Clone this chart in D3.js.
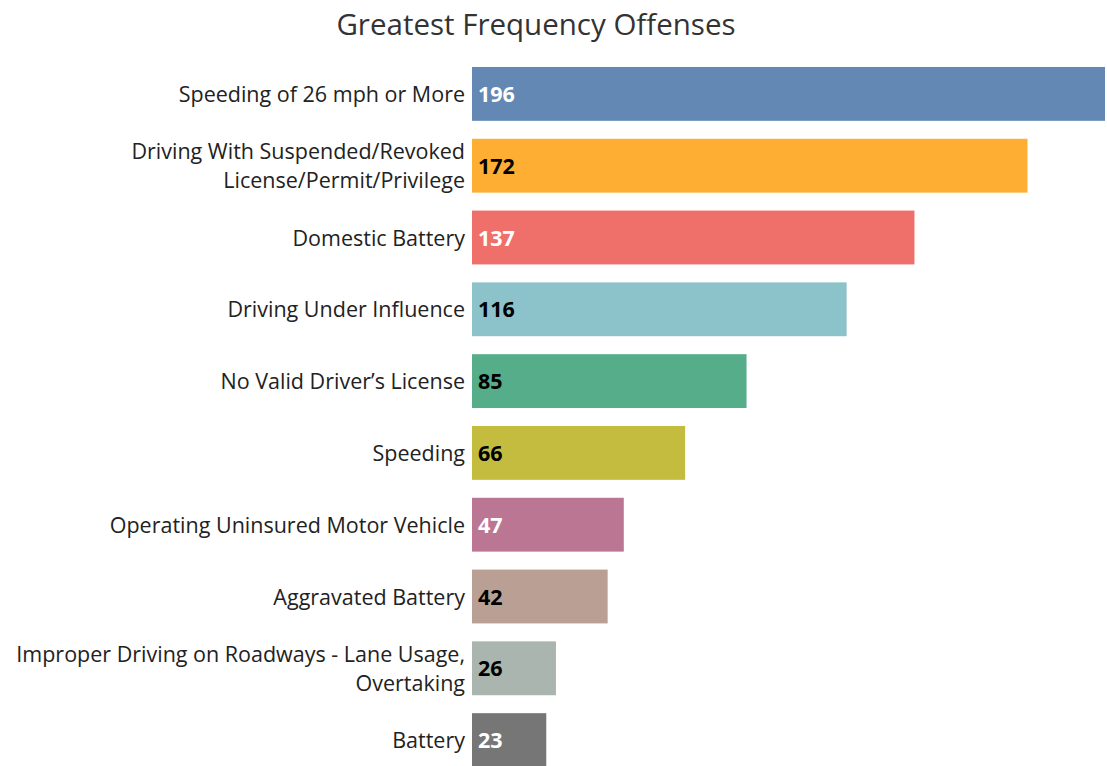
<!DOCTYPE html>
<html>
<head>
<meta charset="utf-8">
<script src="https://cdn.jsdelivr.net/npm/d3@7"></script>
<style>
  body { margin: 0; background: #fff; }
  text { font-family: "Open Sans", sans-serif; }
</style>
</head>
<body>
<div id="chart-area"></div>
<script>

// data
let offenses = [
	"Speeding of 26 mph or More",
	"Driving With Suspended/Revoked License/Permit/Privilege",
	"Domestic Battery",
	"Driving Under Influence",
	"No Valid Driver\u2019s License",
	"Speeding",
	"Operating Uninsured Motor Vehicle",
	"Aggravated Battery",
	"Improper Driving on Roadways - Lane Usage, Overtaking",
	"Battery"
];
let counts = [196, 172, 137, 116, 85, 66, 47, 42, 26, 23];
let colors = ["#6388b4", "#ffae34", "#ef6f6a", "#8cc2ca", "#55ad89", "#c3bc3f", "#bb7693", "#baa094", "#a9b5ae", "#767676"];
let labelColors = ["#fff", "#000", "#fff", "#000", "#000", "#000", "#fff", "#000", "#000", "#fff"];

let width = 1107,
	height = 766;

let data = offenses.map((d, i) => ({name: d, value: counts[i], color: colors[i], labelColor: labelColors[i]}));

let svg = d3.select("#chart-area").append("svg")
	.attr("width", width)
	.attr("height", height);

// title
svg.append("text")
	.attr("x", 536)
	.attr("y", 35)
	.attr("text-anchor", "middle")
	.attr("font-size", 29.5)
	.attr("fill", "#333")
	.text("Greatest Frequency Offenses");

// scales
let x = d3.scaleLinear()
	.domain([0, 196])
	.range([472, 1105]);

let y = d3.scaleBand()
	.domain(offenses)
	.range([58, 776])
	.paddingInner(0.25)
	.paddingOuter(0.125);

// bars
svg.selectAll(".bar").data(data)
	.enter().append("rect")
	.attr("class", "bar")
	.attr("x", x(0))
	.attr("y", d => y(d.name))
	.attr("width", d => x(d.value) - x(0))
	.attr("height", y.bandwidth())
	.attr("fill", d => d.color);

// value labels
svg.selectAll(".value").data(data)
	.enter().append("text")
	.attr("class", "value")
	.attr("x", x(0) + 6)
	.attr("y", d => y(d.name) + y.bandwidth() / 2)
	.attr("dy", "0.38em")
	.attr("font-size", 21.5)
	.attr("font-weight", "bold")
	.attr("fill", d => d.labelColor)
	.text(d => d.value);

// category axis (no line, no ticks)
let yAxis = d3.axisLeft(y).tickSize(0).tickPadding(7);
let yAxisGroup = svg.append("g")
	.attr("class", "y-axis")
	.attr("transform", `translate(${x(0)},0)`)
	.call(yAxis);

yAxisGroup.select(".domain").remove();
yAxisGroup.selectAll("text")
	.attr("font-size", 21.5)
	.attr("font-family", "Open Sans, sans-serif")
	.attr("fill", "#222")
	.call(wrap, 470);

function wrap(texts, maxWidth) {
	texts.each(function() {
		let text = d3.select(this);
		let words = text.text().split(" ");
		let lines = [];
		let line = [];
		text.text(null);
		let tmp = text.append("tspan");
		words.forEach(w => {
			line.push(w);
			tmp.text(line.join(" "));
			if (tmp.node().getComputedTextLength() > maxWidth && line.length > 1) {
				line.pop();
				lines.push(line.join(" "));
				line = [w];
			}
		});
		lines.push(line.join(" "));
		tmp.remove();
		let lh = 29;
		let start = -(lines.length - 1) * lh / 2;
		lines.forEach((l, i) => {
			text.append("tspan")
				.attr("x", -7)
				.attr("y", start + i * lh)
				.attr("dy", "0.38em")
				.text(l);
		});
	});
}

</script>
</body>
</html>
